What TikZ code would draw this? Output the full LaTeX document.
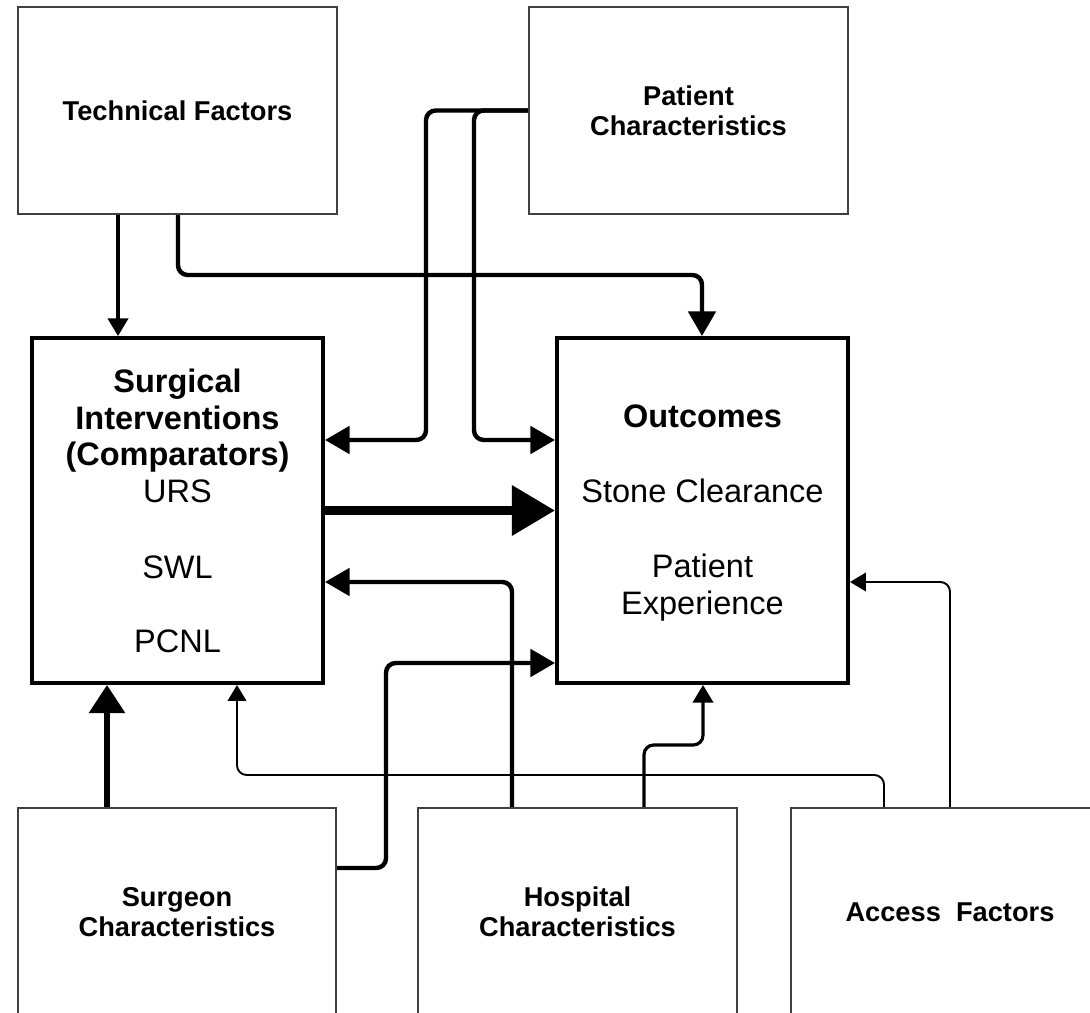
\documentclass[tikz,border=0pt]{standalone}
\usepackage{fontspec}
\setmainfont{Liberation Sans}
\usetikzlibrary{arrows.meta}

\tikzset{
  factorbox/.style={draw=black!75, line width=1.3pt, inner sep=0pt, align=center,
    font=\bfseries\fontsize{15.5}{17}\selectfont},
  mainbox/.style={draw, line width=2.3pt, inner sep=0pt,
    minimum width=5.82cm, minimum height=6.9cm},
  bigtext/.style={anchor=base, font=\fontsize{18.5}{20.5}\selectfont},
  bigbold/.style={anchor=base, font=\bfseries\fontsize{18.5}{20.5}\selectfont},
  thinlink/.style={line width=1.1pt, rounded corners=5.5pt, -{Triangle[length=9pt,width=10.5pt]}},
  midlink/.style={line width=1.8pt, rounded corners=5.5pt, -{Triangle[length=10pt,width=11.5pt]}},
  thicklink/.style={line width=2.5pt, rounded corners=5.5pt, -{Triangle[length=14pt,width=15.5pt]}},
}

\begin{document}
\begin{tikzpicture}[x=0.02cm, y=-0.02cm]
    \useasboundingbox (0,0) rectangle (1090,1013);
    \clip (0,0) rectangle (1090,1013);

    % factor boxes
    \node[factorbox, minimum width=6.38cm, minimum height=4.14cm] (tech) at (177.5,110.5) {Technical Factors};
    \node[factorbox, minimum width=6.38cm, minimum height=4.14cm] (pat) at (688.5,110.5) {Patient\\Characteristics};
    \node[factorbox, minimum width=6.36cm, minimum height=4.16cm] (surgeon) at (177,912) {Surgeon\\Characteristics};
    \node[factorbox, minimum width=6.38cm, minimum height=4.16cm] (hosp) at (577.5,912) {Hospital\\Characteristics};
    \node[factorbox, minimum width=6.36cm, minimum height=4.16cm] (access) at (950,912) {Access\ \ Factors};

    % main boxes
    \node[mainbox] (surg) at (177.5,510.5) {};
    \node[mainbox] (outc) at (702.5,510.5) {};

    \node[bigbold] (surgl1) at (177.5,393) {Surgical};
    \node[bigbold] (surgl2) at (177.5,430) {Interventions};
    \node[bigbold] (surgl3) at (177.5,466) {(Comparators)};
    \node[bigtext] (urs) at (177.5,503) {URS};
    \node[bigtext] (swl) at (177.5,579) {SWL};
    \node[bigtext] (pcnl) at (177.5,653) {PCNL};

    \node[bigbold] (outl) at (702.5,428) {Outcomes};
    \node[bigtext] (stone) at (702.5,503) {Stone Clearance};
    \node[bigtext] (exp1) at (702.5,578) {Patient};
    \node[bigtext] (exp2) at (702.5,615) {Experience};

    % links
    \draw[midlink] (tech.south -| 118,0) -- (surg.north -| 118,0);
    \draw[thicklink] (tech.south -| 178,0) -- (178,275) -- (702,275) -- (outc.north -| 702,0);
    \draw[thicklink] (pat.west) -- (426,110.5) -- (426,440) -- (surg.east |- 0,440);
    \draw[thicklink] (pat.west) -- (474,110.5) -- (474,440) -- (outc.west |- 0,440);
    \draw[line width=5pt, -{Triangle[length=24.5pt,width=27.5pt]}] (surg.east) -- (outc.west);
    \draw[thicklink] (hosp.north -| 512,0) -- (512,582) -- (surg.east |- 0,582);
    \draw[thicklink] (surgeon.east |- 0,868) -- (386,868) -- (386,663) -- (outc.west |- 0,663);
    \draw[line width=3.2pt, -{Triangle[length=16pt,width=20pt]}] (surgeon.north -| 107,0) -- (surg.south -| 107,0);
    \draw[midlink] (hosp.north -| 644,0) -- (644,745) -- (703,745) -- (outc.south -| 703,0);
    \draw[thinlink] (access.north -| 884,0) -- (884,775) -- (237,775) -- (surg.south -| 237,0);
    \draw[thinlink] (access.north -| 950,0) -- (950,582) -- (outc.east |- 0,582);
\end{tikzpicture}
\end{document}
